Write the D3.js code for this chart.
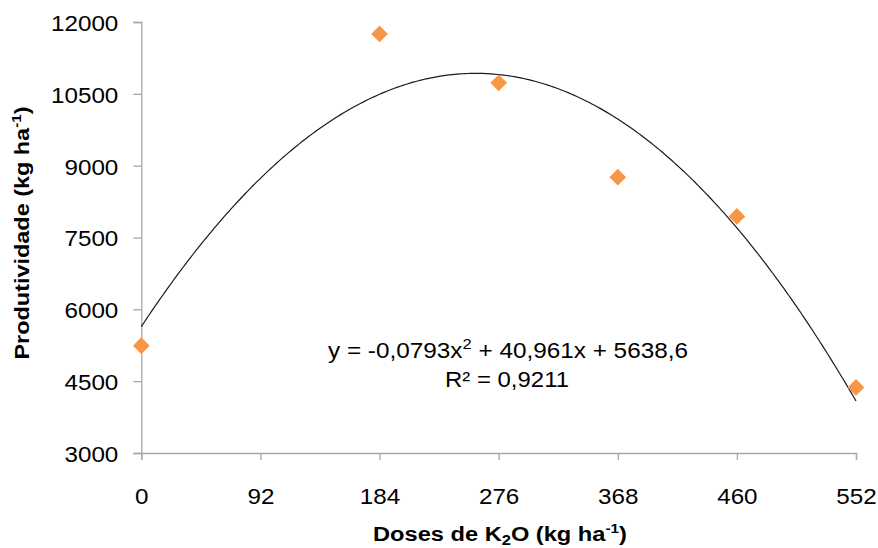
<!DOCTYPE html>
<html><head><meta charset="utf-8">
<script src="https://cdn.jsdelivr.net/npm/d3@7"></script>
<style>
html,body{margin:0;padding:0;background:#fff;}
svg{display:block;font-family:"Liberation Sans",Arial,sans-serif;}
</style></head>
<body>
<svg id="c" width="878" height="548"></svg>
<script>
const doses = [0, 184, 276, 368, 460, 552];
const produtividade = [5240, 11750, 10730, 8760, 7940, 4370];
const xTicks = [0, 92, 184, 276, 368, 460, 552];
const yTicks = [3000, 4500, 6000, 7500, 9000, 10500, 12000];
const trendCoef = [-0.0793, 40.961, 5638.6]; // a, b, c from the displayed equation
const eqLabel = ["y = -0,0793x", "2", " + 40,961x + 5638,6"];
const r2Label = "R² = 0,9211";

const svg = d3.select("#c");
const x = d3.scaleLinear().domain([0, 552]).range([141.3, 856]);
const y = d3.scaleLinear().domain([3000, 12000]).range([453, 22]);
const axisCol = "#a6a6a6";
const sx = 1.1;

// y axis
const gy = svg.append("g").attr("transform", `translate(${x(0)},0)`)
  .call(d3.axisLeft(y).tickValues(yTicks).tickSize(8).tickPadding(14).tickFormat(d3.format("d")));
gy.select(".domain").attr("stroke", axisCol).attr("stroke-width", 1.3);
gy.selectAll(".tick line").attr("stroke", axisCol).attr("stroke-width", 1.3);
gy.selectAll(".tick text").attr("font-size", 22).attr("fill", "#000")
  .attr("font-family", "Liberation Sans, Arial, sans-serif")
  .attr("x", -23 / sx).attr("dy", "0.38em").attr("transform", `scale(${sx},1)`);

// x axis
const gx = svg.append("g").attr("transform", `translate(0,${y(3000)})`)
  .call(d3.axisBottom(x).tickValues(xTicks).tickSize(7).tickPadding(28).tickFormat(d3.format("d")));
gx.select(".domain").attr("stroke", axisCol).attr("stroke-width", 1.3);
gx.selectAll(".tick line").attr("stroke", axisCol).attr("stroke-width", 1.3);
gx.selectAll(".tick text").attr("font-size", 22).attr("fill", "#000")
  .attr("font-family", "Liberation Sans, Arial, sans-serif")
  .attr("transform", `scale(${sx},1)`);

// trend line from the displayed equation
const xs = d3.range(0, 552.001, 2);
const line = d3.line().x(d => x(d)).y(d => y(trendCoef[0]*d*d + trendCoef[1]*d + trendCoef[2]));
svg.append("path").datum(xs).attr("d", line).attr("fill", "none")
  .attr("stroke", "#1a1a1a").attr("stroke-width", 1.2);

// points
const sym = d3.symbol().type(d3.symbolSquare).size(140);
svg.append("g").selectAll("path").data(doses).join("path")
  .attr("d", sym)
  .attr("transform", (d, i) => `translate(${x(d)},${y(produtividade[i])}) rotate(45)`)
  .attr("fill", "#F79646");

// equation
const eq = svg.append("text").attr("x", 508).attr("y", 358).attr("text-anchor", "middle")
  .attr("font-size", 22).attr("textLength", 360).attr("lengthAdjust", "spacingAndGlyphs");
eq.append("tspan").text(eqLabel[0]);
eq.append("tspan").attr("dy", -9).attr("font-size", 15).text(eqLabel[1]);
eq.append("tspan").attr("dy", 9).text(eqLabel[2]);
svg.append("text").attr("x", 507).attr("y", 387).attr("text-anchor", "middle")
  .attr("font-size", 22).attr("textLength", 124).attr("lengthAdjust", "spacingAndGlyphs")
  .text(r2Label);

// axis titles
const xt = svg.append("text").attr("x", 500).attr("y", 541).attr("text-anchor", "middle")
  .attr("font-size", 20).attr("font-weight", "bold")
  .attr("textLength", 254).attr("lengthAdjust", "spacingAndGlyphs");
xt.append("tspan").text("Doses de K");
xt.append("tspan").attr("dy", 4).attr("font-size", 14).text("2");
xt.append("tspan").attr("dy", -4).text("O (kg ha");
xt.append("tspan").attr("dy", -8).attr("font-size", 13).text("-1");
xt.append("tspan").attr("dy", 8).text(")");

const yt = svg.append("text").attr("transform", "translate(29,233) rotate(-90)")
  .attr("text-anchor", "middle").attr("font-size", 20).attr("font-weight", "bold")
  .attr("textLength", 253).attr("lengthAdjust", "spacingAndGlyphs");
yt.append("tspan").text("Produtividade (kg ha");
yt.append("tspan").attr("dy", -8).attr("font-size", 13).text("-1");
yt.append("tspan").attr("dy", 8).text(")");
</script>
</body></html>
